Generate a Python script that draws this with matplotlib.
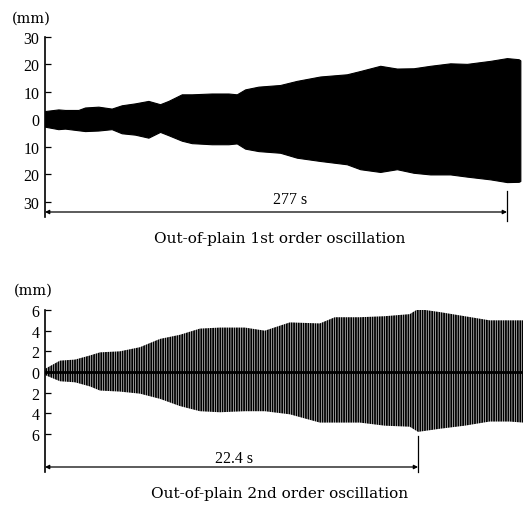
import matplotlib

matplotlib.use("Agg")
import matplotlib.pyplot as plt

# 1st order: envelope of the out-of-plane displacement (mm) vs time (s)
t1 = [0, 8, 12, 20, 24, 32, 40, 46, 54, 62, 69, 74, 82, 88, 100, 110, 115,
      120, 128, 141, 151, 165, 181, 189, 201, 211, 221, 231, 243, 253, 267, 277, 284, 285]
upper1 = [3.0, 3.6, 3.4, 3.4, 4.3, 4.6, 3.9, 5.1, 5.8, 6.7, 5.5, 6.7, 9.1, 9.1, 9.4, 9.4, 9.1,
          10.9, 11.9, 12.5, 14.0, 15.6, 16.4, 17.6, 19.5, 18.5, 18.6, 19.5, 20.4, 20.2, 21.3, 22.3, 21.9, 21.5]
lower1 = [-2.7, -3.6, -3.4, -4.0, -4.3, -4.1, -3.6, -5.1, -5.6, -6.7, -4.6, -5.8, -7.8, -8.7, -9.1, -9.1, -8.8,
          -10.7, -11.6, -12.2, -14.0, -15.2, -16.4, -18.2, -19.2, -18.2, -19.5, -20.1, -20.1, -20.9, -21.9, -22.9, -22.8, -22.5]

# 2nd order
t2 = [0, 0.9, 1.8, 2.7, 3.3, 4.5, 5.7, 6.9, 8.1, 9.3, 10.5, 12.0, 13.2,
      14.7, 16.5, 17.4, 18.9, 20.4, 21.9, 22.4, 23.7, 25.2, 26.7, 27.9, 28.7]
upper2 = [0.3, 1.1, 1.2, 1.6, 1.9, 2.0, 2.4, 3.2, 3.6, 4.2, 4.3, 4.3, 4.0,
          4.8, 4.7, 5.3, 5.3, 5.4, 5.6, 6.1, 5.8, 5.4, 5.0, 5.0, 5.0]
lower2 = [-0.3, -0.9, -1.0, -1.4, -1.8, -1.9, -2.1, -2.6, -3.3, -3.8, -3.9, -3.8, -3.8,
          -4.1, -4.9, -4.9, -4.9, -5.2, -5.3, -5.8, -5.5, -5.2, -4.8, -4.8, -4.9]

ticks1 = [30, 20, 10, 0, -10, -20, -30]
tick_labels1 = ["30", "20", "10", "0", "10", "20", "30"]
ticks2 = [6, 4, 2, 0, -2, -4, -6]
tick_labels2 = ["6", "4", "2", "0", "2", "4", "6"]

span1, span1_label = 277, "277 s"
span2, span2_label = 22.4, "22.4 s"

W, H = 523, 510
FONT = "Liberation Serif"
CAPTION_FONT = "DejaVu Serif"


def px_axes(fig, left, top, right, bottom):
    return fig.add_axes([left / W, 1 - bottom / H, (right - left) / W, (bottom - top) / H])


def style_axes(ax, ticks, labels, ymin, ytop, spine_low):
    for side in ("top", "right", "bottom", "left"):
        ax.spines[side].set_visible(False)
    ax.plot([0, 0], [spine_low, ytop], color="black", lw=1.2, clip_on=False)
    ax.set_xticks([])
    ax.set_yticks(ticks)
    ax.set_yticklabels(labels, fontfamily=FONT, fontsize=11.5)
    ax.tick_params(axis="y", direction="in", length=4, width=0.9, pad=4)
    ax.set_ylim(ymin, ytop)


def span_marker(ax, span, label, ybase, mark_top, mark_low, label_x, label_y):
    ax.annotate("", xy=(0, ybase), xytext=(span, ybase), annotation_clip=False,
                arrowprops=dict(arrowstyle="<|-|>", lw=0.9, mutation_scale=6,
                                shrinkA=0, shrinkB=0, color="black"))
    ax.plot([span, span], [mark_low, mark_top], color="black", lw=0.9, clip_on=False)
    ax.text(label_x, label_y, label, ha="center", va="center",
            fontfamily=FONT, fontsize=11.5)


def main():
    plt.rcParams["hatch.linewidth"] = 1.3
    fig = plt.figure(figsize=(W / 100, H / 100), dpi=100)

    ax1 = px_axes(fig, 45, 38, 523, 213)
    ax1.fill_between(t1, lower1, upper1, color="black", lw=0.8, edgecolor="black")
    ax1.set_xlim(0, 286.6)
    style_axes(ax1, ticks1, tick_labels1, -33.8, 30, -35.8)
    span_marker(ax1, span1, span1_label, -33.8, -26.3, -37.2, 147, -29.0)

    ax2 = px_axes(fig, 45, 311, 523, 468)
    ax2.fill_between(t2, lower2, upper2, facecolor="none", edgecolor="black",
                     hatch="|" * 7, lw=0)
    ax2.axhline(0, color="black", lw=2.0)
    ax2.set_xlim(0, 28.7)
    style_axes(ax2, ticks2, tick_labels2, -9.2, 6, -9.7)
    span_marker(ax2, span2, span2_label, -9.2, -6.2, -9.7, 11.35, -8.3)

    fig.text(12 / W, 1 - 19 / H, "(mm)", fontfamily=CAPTION_FONT, fontsize=10.5, va="center")
    fig.text(14 / W, 1 - 291 / H, "(mm)", fontfamily=CAPTION_FONT, fontsize=10.5, va="center")
    fig.text(280 / W, 1 - 239 / H, "Out-of-plain 1st order oscillation",
             fontfamily=CAPTION_FONT, fontsize=11, ha="center", va="center")
    fig.text(280 / W, 1 - 494 / H, "Out-of-plain 2nd order oscillation",
             fontfamily=CAPTION_FONT, fontsize=11, ha="center", va="center")

    fig.savefig("out.png", dpi=100)
    plt.close(fig)


if __name__ == "__main__":
    main()
